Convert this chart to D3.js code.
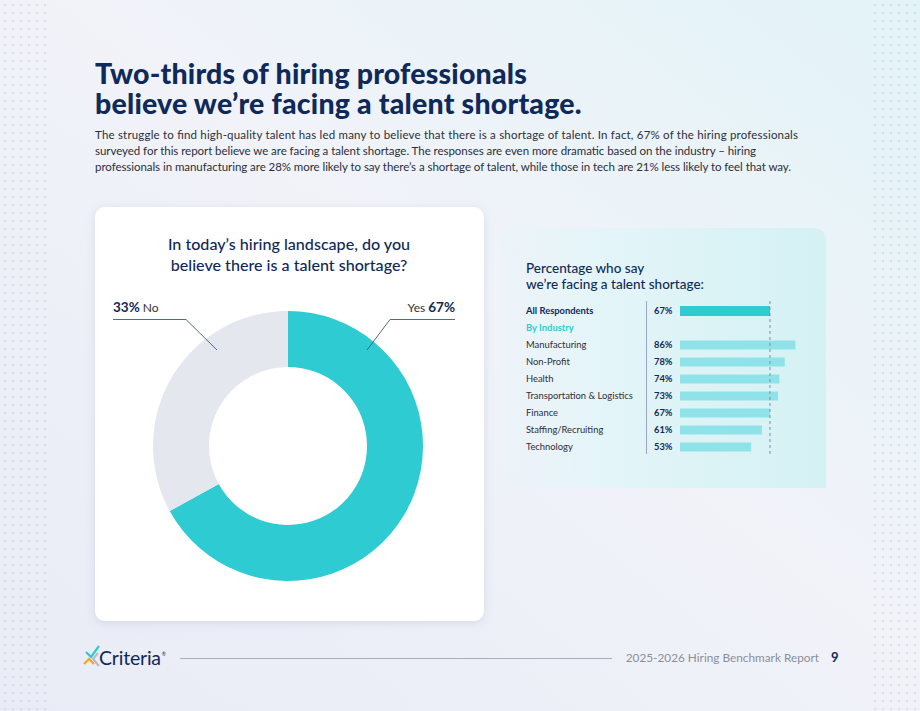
<!DOCTYPE html>
<html><head><meta charset="utf-8">
<script src="https://cdn.jsdelivr.net/npm/d3@7"></script>
<style>
html,body{margin:0;padding:0;}
body{width:920px;height:711px;overflow:hidden;font-family:Lato,"Noto Sans",sans-serif;}
</style></head>
<body><svg id="c" width="920" height="711"></svg>
<script>
// ---- data ----
const pieCategories = ["Yes", "No"];
const pieValues = [67, 33];
const allLabel = "All Respondents";
const allValue = 67;
const industries = ["Manufacturing","Non-Profit","Health","Transportation & Logistics","Finance","Staffing/Recruiting","Technology"];
const industryValues = [86, 78, 74, 73, 67, 61, 53];
const titleLines = ["Two-thirds of hiring professionals","believe we\u2019re facing a talent shortage."];
const bodyLines = [
 "The struggle to find high-quality talent has led many to believe that there is a shortage of talent. In fact, 67% of the hiring professionals",
 "surveyed for this report believe we are facing a talent shortage. The responses are even more dramatic based on the industry \u2013 hiring",
 "professionals in manufacturing are 28% more likely to say there\u2019s a shortage of talent, while those in tech are 21% less likely to feel that way."
];
const bodyWidths = [703, 661, 696];
const pieTitle = ["In today\u2019s hiring landscape, do you","believe there is a talent shortage?"];
const barTitle = ["Percentage who say","we\u2019re facing a talent shortage:"];

const navy = "#0f2a5a", teal = "#2ecbd3", lightTeal = "#8fe3e8", grey = "#e4e7ed";
const svg = d3.select("#c");
const defs = svg.append("defs");

// background
const bg = defs.append("linearGradient").attr("id","bg").attr("x1","0").attr("y1","1").attr("x2","1").attr("y2","0");
bg.append("stop").attr("offset","0").attr("stop-color","#e9ebf6");
bg.append("stop").attr("offset","0.55").attr("stop-color","#f1f3f9");
bg.append("stop").attr("offset","1").attr("stop-color","#e2f3f7");
svg.append("rect").attr("width",920).attr("height",711).attr("fill","url(#bg)");

// dot grids
const dots = svg.append("g").attr("fill","#c9ccd6");
[5, 875].forEach(x0 => {
  for (let i = 0; i < 6; i++) for (let y = 5; y < 711; y += 8)
    dots.append("rect").attr("x", x0 + i*8 - 0.7).attr("y", y - 0.7).attr("width",1.4).attr("height",1.4);
});

// title
svg.append("g").selectAll("text").data(titleLines).join("text")
  .attr("x",95).attr("y",(d,i)=>84+i*30)
  .attr("font-family","Lato").attr("font-weight",900).attr("font-size",28.5)
  .attr("fill",navy).attr("letter-spacing",0.2).text(d=>d);

svg.append("g").selectAll("text").data(bodyLines).join("text")
  .attr("x",95).attr("y",(d,i)=>139+i*16)
  .attr("textLength",(d,i)=>bodyWidths[i]).attr("lengthAdjust","spacing")
  .attr("font-family","Lato").attr("font-size",11.5).attr("fill","#2b2f3a").text(d=>d);

// pie card
const sh = defs.append("filter").attr("id","sh").attr("x","-10%").attr("y","-10%").attr("width","120%").attr("height","120%");
sh.append("feDropShadow").attr("dx",0).attr("dy",2).attr("stdDeviation",5).attr("flood-color","#8088a8").attr("flood-opacity",0.22);
svg.append("rect").attr("x",95).attr("y",207).attr("width",389).attr("height",414).attr("rx",10)
  .attr("fill","#fff").attr("filter","url(#sh)");

svg.append("g").selectAll("text").data(pieTitle).join("text")
  .attr("x",289).attr("y",(d,i)=>250+i*21).attr("text-anchor","middle")
  .attr("font-family","Lato").attr("font-size",16.1).attr("font-weight",500).attr("fill",navy).text(d=>d);

const cx = 288, cy = 446;
const pie = d3.pie().sort(null).value(d=>d)(pieValues);
const arc = d3.arc().innerRadius(79).outerRadius(135);
const pg = svg.append("g").attr("transform",`translate(${cx},${cy})`);
pg.selectAll("path").data(pie).join("path").attr("d",arc).attr("fill",(d,i)=>i===0?teal:grey);

// leader lines
const lineC = "#3b5a82";
svg.append("path").attr("d",`M455,319.5 H390 L367,350`).attr("fill","none").attr("stroke",lineC).attr("stroke-width",0.9);
svg.append("path").attr("d",`M113,319.5 H186 L217,350`).attr("fill","none").attr("stroke",lineC).attr("stroke-width",0.9);
const yesT = svg.append("text").attr("x",455).attr("y",312).attr("text-anchor","end").attr("font-family","Lato").attr("fill",navy);
yesT.append("tspan").attr("font-size",12).attr("fill","#333").text(pieCategories[0]+" ");
yesT.append("tspan").attr("font-size",13.5).attr("font-weight",700).text(pieValues[0]+"%");
const noT = svg.append("text").attr("x",113).attr("y",312).attr("font-family","Lato").attr("fill",navy);
noT.append("tspan").attr("font-size",13.5).attr("font-weight",700).text(pieValues[1]+"%");
noT.append("tspan").attr("font-size",12).attr("fill","#333").text(" "+pieCategories[1]);

// bar panel
const pgr = defs.append("linearGradient").attr("id","pg").attr("x1","0").attr("x2","1").attr("y1","0").attr("y2","0");
pgr.append("stop").attr("offset","0").attr("stop-color","#e6f4f8").attr("stop-opacity",0.3);
pgr.append("stop").attr("offset","0.3").attr("stop-color","#e4f5f8");
pgr.append("stop").attr("offset","1").attr("stop-color","#d4f1f4");
svg.append("path").attr("d","M500,228 H812 Q826,228 826,242 V488 H500 Z").attr("fill","url(#pg)");

svg.append("g").selectAll("text").data(barTitle).join("text")
  .attr("x",526).attr("y",(d,i)=>273+i*16)
  .attr("font-family","Lato").attr("font-size",13.5).attr("font-weight",500).attr("fill",navy).text(d=>d);

const rows = [{label:allLabel,value:allValue,all:true},{label:"By Industry",value:null,head:true}]
  .concat(industries.map((d,i)=>({label:d,value:industryValues[i]})));
const y = d3.scaleBand().domain(d3.range(rows.length)).range([302.5, 455.5]).paddingInner(0);
const x = d3.scaleLinear().domain([0,100]).range([680, 680+134.3]);

svg.append("line").attr("x1",646.5).attr("x2",646.5).attr("y1",301).attr("y2",454).attr("stroke","#9aa6bd").attr("stroke-width",1);

const rg = svg.append("g");
rows.forEach((r,i)=>{
  const yc = y(i) + y.bandwidth()/2;
  rg.append("text").attr("x",526).attr("y",yc+3.3).attr("font-family","Lato").attr("font-size",9.4)
    .attr("font-weight",r.all||r.head?700:400).attr("fill",r.head?teal:(r.all?navy:"#2b2f3a")).text(r.label);
  if (r.value!=null){
    rg.append("text").attr("x",654).attr("y",yc+3.3).attr("font-family","Lato").attr("font-size",9.3)
      .attr("font-weight",700).attr("fill",navy).text(r.value+"%");
    const h = r.all?10:9;
    rg.append("rect").attr("x",x(0)).attr("y",yc-h/2).attr("width",x(r.value)-x(0)).attr("height",h)
      .attr("fill",r.all?teal:lightTeal);
  }
});
svg.append("line").attr("x1",x(allValue)).attr("x2",x(allValue)).attr("y1",301).attr("y2",457)
  .attr("stroke","#7d8fa8").attr("stroke-width",1).attr("stroke-dasharray","3,3");

// footer
const logo = svg.append("g");
logo.append("path").attr("d","M86,652 L91,657 L99,646").attr("fill","none").attr("stroke",teal).attr("stroke-width",2.2);
logo.append("path").attr("d","M84,664 L89,659 L94,664").attr("fill","none").attr("stroke","#f5a623").attr("stroke-width",2.2);
logo.append("path").attr("d","M98,653 L93,659 L99,666").attr("fill","none").attr("stroke","#b8bcc4").attr("stroke-width",2.2);
const lt = logo.append("text").attr("x",99).attr("y",665).attr("font-family","Lato").attr("font-size",19.5).attr("letter-spacing",-0.2).attr("fill",navy).text("Criteria");
const lw = lt.node().getComputedTextLength();
logo.append("text").attr("x",99+lw+1).attr("y",656).attr("font-family","Lato").attr("font-size",5).attr("fill",navy).text("®");
svg.append("line").attr("x1",180).attr("x2",612).attr("y1",658.5).attr("y2",658.5).attr("stroke","#a9adb8").attr("stroke-width",1);
svg.append("text").attr("x",819).attr("y",662).attr("text-anchor","end").attr("font-family","Lato").attr("font-size",11.8).attr("fill","#8b8f9b").text("2025-2026 Hiring Benchmark Report");
svg.append("text").attr("x",831).attr("y",662).attr("font-family","Lato").attr("font-size",13).attr("font-weight",700).attr("fill",navy).text("9");
</script></body></html>
